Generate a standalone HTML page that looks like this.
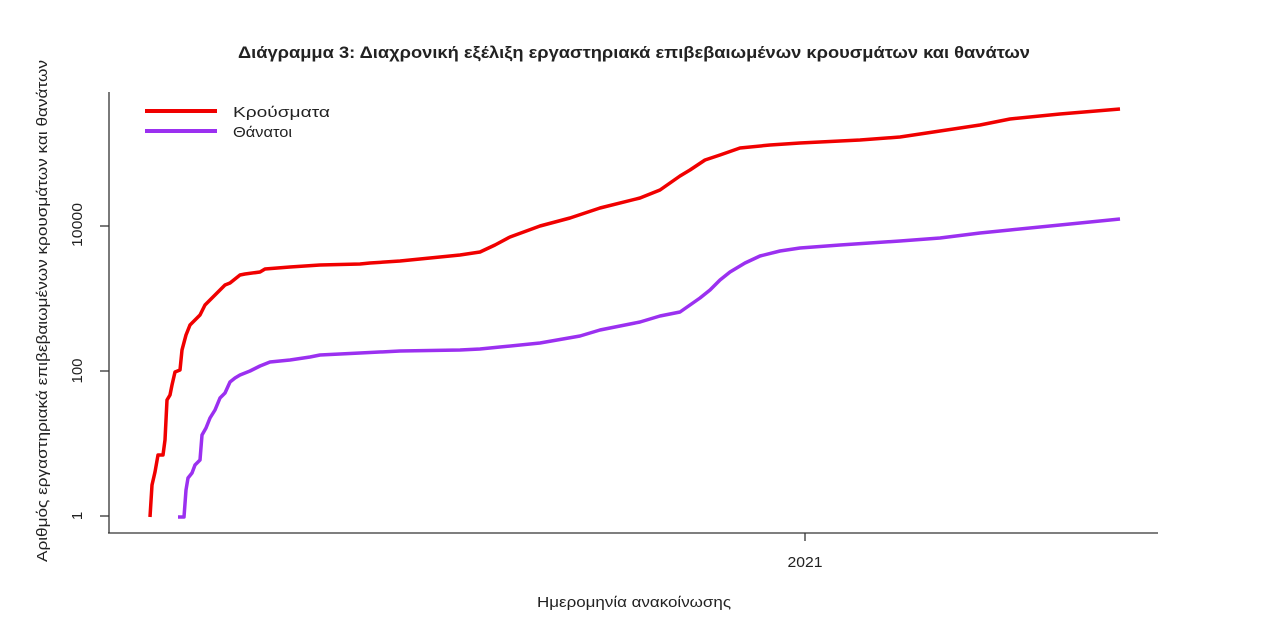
<!DOCTYPE html>
<html><head><meta charset="utf-8"><style>body{margin:0;background:#fff}svg{display:block}text{font-family:"Liberation Sans","DejaVu Sans",sans-serif;fill:#222}</style></head><body>
<svg width="1274" height="630" viewBox="0 0 1274 630">
<text x="634" y="58" text-anchor="middle" font-size="17" font-weight="bold" fill="#000" textLength="792" lengthAdjust="spacingAndGlyphs">Διάγραμμα 3: Διαχρονική εξέλιξη εργαστηριακά επιβεβαιωμένων κρουσμάτων και θανάτων</text>
<g stroke="#333" stroke-width="1.3" fill="none">
<line x1="109" y1="92" x2="109" y2="533"/>
<line x1="108" y1="533" x2="1158" y2="533"/>
<line x1="100" y1="226" x2="109" y2="226"/>
<line x1="100" y1="371" x2="109" y2="371"/>
<line x1="100" y1="516" x2="109" y2="516"/>
<line x1="805" y1="533" x2="805" y2="541"/>
</g>
<g font-size="15">
<text transform="translate(82,225) rotate(-90)" text-anchor="middle" textLength="44" lengthAdjust="spacingAndGlyphs">10000</text>
<text transform="translate(82,371) rotate(-90)" text-anchor="middle" textLength="25" lengthAdjust="spacingAndGlyphs">100</text>
<text transform="translate(82,516) rotate(-90)" text-anchor="middle">1</text>
<text x="805" y="567" text-anchor="middle" textLength="35" lengthAdjust="spacingAndGlyphs">2021</text>
<text x="634" y="607" text-anchor="middle" textLength="194" lengthAdjust="spacingAndGlyphs">Ημερομηνία ανακοίνωσης</text>
<text transform="translate(47,311) rotate(-90)" text-anchor="middle" textLength="502" lengthAdjust="spacingAndGlyphs">Αριθμός εργαστηριακά επιβεβαιωμένων κρουσμάτων και θανάτων</text>
<text x="233" y="117" textLength="97" lengthAdjust="spacingAndGlyphs">Κρούσματα</text>
<text x="233" y="137" textLength="59" lengthAdjust="spacingAndGlyphs">Θάνατοι</text>
</g>
<line x1="145" y1="111" x2="217" y2="111" stroke="#f00000" stroke-width="4"/>
<line x1="145" y1="131" x2="217" y2="131" stroke="#9b30f0" stroke-width="4"/>
<polyline fill="none" stroke="#f00000" stroke-width="3.5" stroke-linejoin="round" points="150,517 152,485 155,472 158,455 163,455 165,440 167,400 170,395 172,385 175,372 180,370 182,350 186,335 190,325 195,320 200,315 205,305 215,295 225,285 230,283 240,275 245,274 260,272 265,269 290,267 320,265 360,264 370,263 400,261 430,258 460,255 480,252 495,245 510,237 540,226 570,218 600,208 640,198 660,190 680,176 690,170 705,160 720,155 740,148 770,145 800,143 860,140 900,137 940,131 980,125 1010,119 1060,114 1120,109"/>
<polyline fill="none" stroke="#9b30f0" stroke-width="3.5" stroke-linejoin="round" points="178,517 184,517 186,490 188,478 192,473 195,465 200,460 202,435 206,428 210,418 215,410 220,398 225,393 230,382 235,378 240,375 250,371 260,366 270,362 290,360 310,357 320,355 360,353 400,351 460,350 480,349 500,347 540,343 580,336 600,330 620,326 640,322 660,316 680,312 690,305 700,298 710,290 720,280 730,272 745,263 760,256 780,251 800,248 840,245 900,241 940,238 980,233 1010,230 1060,225 1120,219"/>
</svg>
</body></html>
